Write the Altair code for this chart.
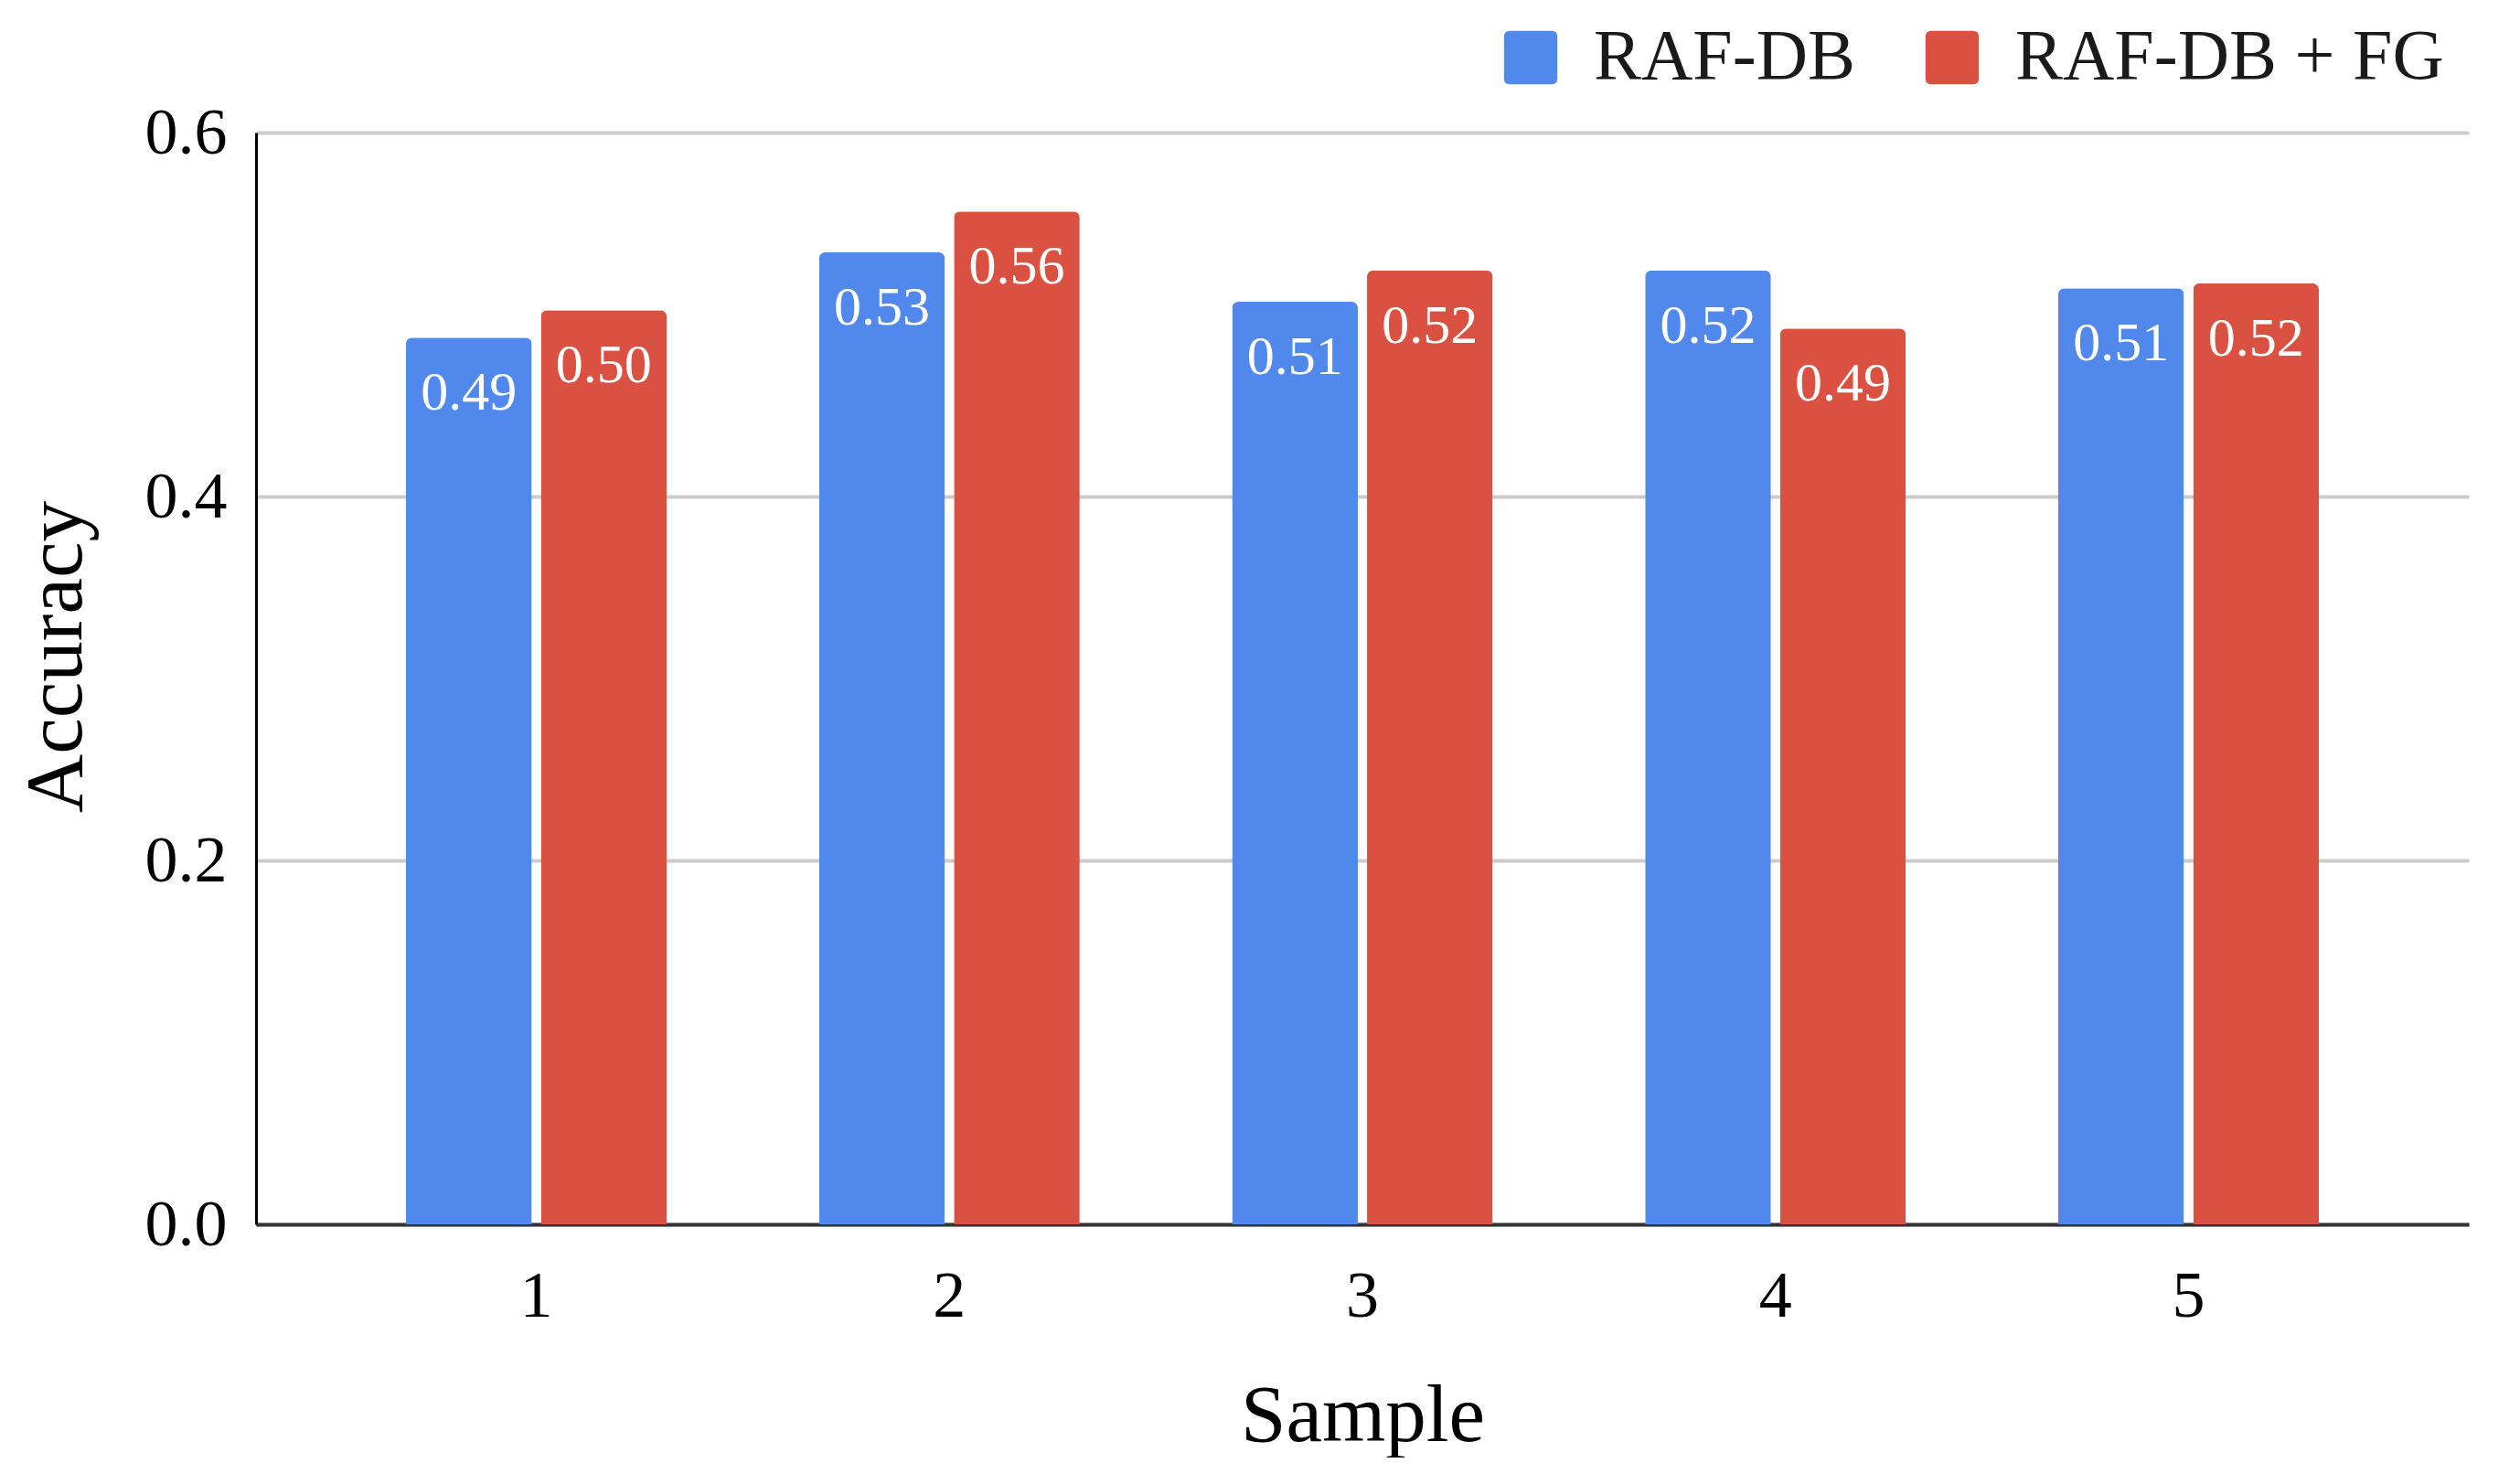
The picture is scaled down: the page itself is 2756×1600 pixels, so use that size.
import altair as alt
import pandas as pd

samples = ["1", "2", "3", "4", "5"]
series = ["RAF-DB", "RAF-DB + FG"]
raf_db = [0.4873, 0.5342, 0.5070, 0.5243, 0.5144]
raf_db_fg = [0.5024, 0.5566, 0.5243, 0.4923, 0.5171]
colors = ["#5088EC", "#DA5142"]
y_ticks = [0.0, 0.2, 0.4, 0.6]

rows = []
for i, s in enumerate(samples):
    rows.append({"Sample": s, "Series": series[0], "Accuracy": raf_db[i]})
    rows.append({"Sample": s, "Series": series[1], "Accuracy": raf_db_fg[i]})
df = pd.DataFrame(rows)

FONT = "Liberation Serif"
rounded_square = ("M-1,-0.78 Q-1,-1 -0.78,-1 L0.78,-1 Q1,-1 1,-0.78 L1,0.78 "
                  "Q1,1 0.78,1 L-0.78,1 Q-1,1 -1,0.78 Z")

base = alt.Chart(df).encode(
    x=alt.X(
        "Sample:N",
        sort=samples,
        scale=alt.Scale(paddingInner=0.369, paddingOuter=0.363),
        axis=alt.Axis(
            title="Sample",
            labelAngle=0,
            ticks=False,
            tickSize=0,
            labelPadding=100,
            labelBaseline="alphabetic",
            labelFontSize=72,
            labelFont=FONT,
            labelColor="#000000",
            titleFont=FONT,
            titleFontSize=89,
            titleFontWeight="normal",
            titleColor="#000000",
            titleBaseline="alphabetic",
            titleY=236,
            domainColor="#333333",
            domainWidth=4,
            grid=False,
        ),
    ),
    xOffset=alt.XOffset(
        "Series:N", sort=series, scale=alt.Scale(paddingInner=0.068, paddingOuter=0)
    ),
    y=alt.Y(
        "Accuracy:Q",
        scale=alt.Scale(domain=[0, 0.6], nice=False, zero=True),
        axis=alt.Axis(
            values=y_ticks,
            format=".1f",
            title="Accuracy",
            ticks=False,
            tickSize=0,
            labelPadding=32,
            labelFontSize=72,
            labelFont=FONT,
            labelColor="#000000",
            titleFont=FONT,
            titleFontSize=89,
            titleFontWeight="normal",
            titleColor="#000000",
            titleBaseline="alphabetic",
            titleAngle=270,
            titleX=-192,
            titleY=573,
            domainColor="#000000",
            domainWidth=3,
            gridColor="#cccccc",
            gridWidth=4,
        ),
    ),
)

bars = base.mark_bar(cornerRadiusTopLeft=7, cornerRadiusTopRight=7).encode(
    color=alt.Color(
        "Series:N",
        sort=series,
        scale=alt.Scale(domain=series, range=colors),
        legend=alt.Legend(
            title=None,
            orient="none",
            legendX=1355,
            legendY=-121,
            direction="horizontal",
            labelFont=FONT,
            labelFontSize=78,
            labelColor="#1a1a1a",
            labelLimit=2000,
            symbolType=rounded_square,
            symbolSize=3400,
            symbolStrokeWidth=0,
            symbolOpacity=1,
            labelOffset=30,
            columnPadding=66,
            padding=0,
        ),
    )
)

labels = base.mark_text(
    dy=79, baseline="alphabetic", fontSize=60, color="white", font=FONT
).encode(text=alt.Text("Accuracy:Q", format=".2f"))

chart = (
    alt.layer(bars, labels)
    .properties(
        width=2420,
        height=1194,
        autosize=alt.AutoSizeParams(type="none"),
        padding={"left": 272, "top": 137, "right": 40, "bottom": 255},
    )
    .configure_view(stroke=None)
)

chart.save("out.html", embed_options={"renderer": "svg", "actions": False})
